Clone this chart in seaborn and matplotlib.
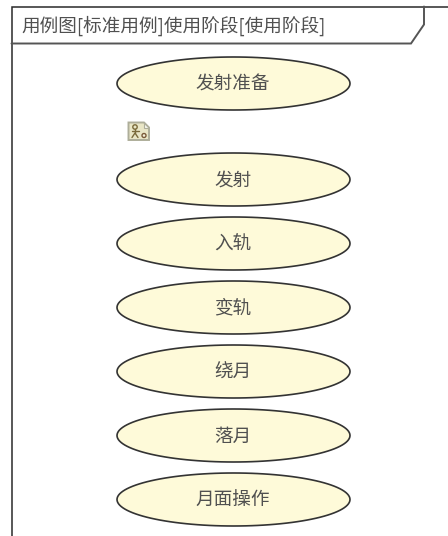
import numpy as np
import pandas as pd
import seaborn as sns
import matplotlib.pyplot as plt
from matplotlib.path import Path
from matplotlib.patches import Circle, Polygon

use_cases = ["发射准备", "发射", "入轨", "变轨", "绕月", "落月", "月面操作"]
centre_y = [83, 179, 243, 307, 371, 435, 499]
centre_x = [233, 233, 233, 233, 233, 233, 233]
title = "用例图[标准用例]使用阶段[使用阶段]"

sns.set_theme(style="white")
plt.rcParams['font.family'] = ['Noto Sans CJK SC', 'DejaVu Sans']

df = pd.DataFrame({"name": use_cases, "x": centre_x, "y": centre_y})

fig = plt.figure(figsize=(4.48, 5.36), dpi=100)
ax = fig.add_axes([0, 0, 1, 1])

# wide ellipse as a marker, matplotlib scales it by its longest side
w = 233 * 0.72
theta = np.linspace(0, 2 * np.pi, 121)
ellipse = Path(np.column_stack([np.cos(theta), 53 / 233 * np.sin(theta)]), closed=True)
sns.scatterplot(data=df, x="x", y="y", marker=ellipse, s=w ** 2, color="#fefad9",
                edgecolor="#333333", linewidth=1.2, legend=False, ax=ax, zorder=3)

ax.set_xlim(0, 448)
ax.set_ylim(536, 0)
ax.axis("off")

for _, row in df.iterrows():
    ax.text(row["x"], row["y"] + 1.5, row["name"], ha="center", va="center",
            fontsize=13.4, color="#505050", zorder=4)

# frame with the title tab
ax.plot([11.5, 11.5, 448], [536, 6.5, 6.5], color="#2a2a2a", lw=1.1, solid_joinstyle="miter")
ax.plot([424, 424, 411, 11.5], [6.5, 24.5, 43.5, 43.5], color="#555555", lw=1.4, solid_joinstyle="miter")
ax.text(21, 26, title, ha="left", va="center", fontsize=13.4, color="#505050")

# small diagram icon
ax.add_patch(Polygon([(128.5, 122.5), (144, 122.5), (149, 127.5), (149, 140), (128.5, 140)],
                     facecolor="#e9e6c6", edgecolor="#aeae9a", lw=1.4))
ax.add_patch(Polygon([(144, 122.5), (144, 127.5), (149, 127.5)], facecolor="#f6f6f0",
                     edgecolor="#aeae9a", lw=0.8))
ax.add_patch(Circle((135, 127), 2.2, facecolor="none", edgecolor="#7a6a3a", lw=1))
ax.plot([135, 135], [129, 133], color="#7a6a3a", lw=1)
ax.plot([131.5, 138.5], [131, 131], color="#7a6a3a", lw=1)
ax.plot([132, 135, 138], [137.5, 133, 137.5], color="#7a6a3a", lw=1)
ax.add_patch(Circle((144, 135.5), 2, facecolor="#f4f0d8", edgecolor="#7a5a3a", lw=1))

fig.savefig("out.png", dpi=100)
